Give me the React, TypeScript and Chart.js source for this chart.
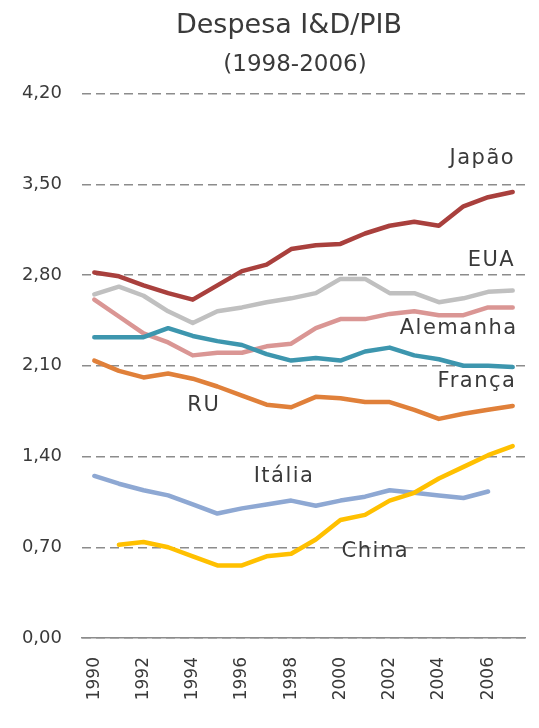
import React, { useEffect, useRef } from "react";
import { Chart, registerables } from "chart.js";

Chart.register(...registerables);

const years = ["1990","1991","1992","1993","1994","1995","1996","1997","1998","1999","2000","2001","2002","2003","2004","2005","2006","2007"];
const yTicks = [0, 0.7, 1.4, 2.1, 2.8, 3.5, 4.2];

const japao = [2.82, 2.79, 2.72, 2.66, 2.61, 2.72, 2.83, 2.88, 3.0, 3.03, 3.04, 3.12, 3.18, 3.21, 3.18, 3.33, 3.4, 3.44];
const eua = [2.65, 2.71, 2.64, 2.52, 2.43, 2.52, 2.55, 2.59, 2.62, 2.66, 2.77, 2.77, 2.66, 2.66, 2.59, 2.62, 2.67, 2.68];
const alemanha = [2.61, 2.48, 2.35, 2.28, 2.18, 2.2, 2.2, 2.25, 2.27, 2.39, 2.46, 2.46, 2.5, 2.52, 2.49, 2.49, 2.55, 2.55];
const franca = [2.32, 2.32, 2.32, 2.39, 2.33, 2.29, 2.26, 2.19, 2.14, 2.16, 2.14, 2.21, 2.24, 2.18, 2.15, 2.1, 2.1, 2.09];
const ru = [2.14, 2.06, 2.01, 2.04, 2.0, 1.94, 1.87, 1.8, 1.78, 1.86, 1.85, 1.82, 1.82, 1.76, 1.69, 1.73, 1.76, 1.79];
const italia = [1.25, 1.19, 1.14, 1.1, 1.03, 0.96, 1.0, 1.03, 1.06, 1.02, 1.06, 1.09, 1.14, 1.12, 1.1, 1.08, 1.13, null];
const china = [null, 0.72, 0.74, 0.7, 0.63, 0.56, 0.56, 0.63, 0.65, 0.76, 0.91, 0.95, 1.06, 1.12, 1.23, 1.32, 1.41, 1.48];

const seriesNames = ["Japão", "EUA", "Alemanha", "França", "RU", "Itália", "China"];

// label anchors in data units: [category index, value, align]
const labelAnchors: [number, number, CanvasTextAlign][] = [
  [17.1, 3.7, "right"],
  [17.1, 2.91, "right"],
  [17.2, 2.386, "right"],
  [17.15, 1.98, "right"],
  [4.45, 1.79, "center"],
  [7.71, 1.245, "center"],
  [11.42, 0.67, "center"],
];

const FONT = "'DejaVu Sans', sans-serif";
const TEXT = "#3a3a3a";

const textPlugin = {
  id: "texts",
  afterDatasetsDraw(chart: any) {
    const { ctx, scales } = chart;
    ctx.save();
    ctx.fillStyle = TEXT;
    ctx.textBaseline = "middle";
    ctx.textAlign = "center";
    ctx.font = `27px ${FONT}`;
    ctx.fillText("Despesa I&D/PIB", 289, 26);
    ctx.font = `23px ${FONT}`;
    ctx.fillText("(1998-2006)", 295, 65);
    ctx.font = `21px ${FONT}`;
    (ctx as any).letterSpacing = "1.5px";
    seriesNames.forEach((name, i) => {
      const [xi, v, align] = labelAnchors[i];
      const x = scales.x.getPixelForValue(0) + xi * (scales.x.getPixelForValue(1) - scales.x.getPixelForValue(0));
      const y = scales.y.getPixelForValue(v);
      ctx.textAlign = align;
      ctx.fillText(name, x, y);
    });
    ctx.restore();
  },
};

export default function App() {
  const ref = useRef<HTMLCanvasElement>(null);
  useEffect(() => {
    document.body.style.margin = "0";
    const mk = (label: string, data: (number | null)[], color: string) => ({
      label,
      data,
      borderColor: color,
      backgroundColor: color,
      borderWidth: 4.5,
      pointRadius: 0,
      tension: 0,
      borderCapStyle: "round" as const,
      borderJoinStyle: "round" as const,
      spanGaps: false,
    });
    const chart = new Chart(ref.current!, {
      type: "line",
      data: {
        labels: years,
        datasets: [
          mk(seriesNames[6], china, "#FFC000"),
          mk(seriesNames[0], japao, "#A9403D"),
          mk(seriesNames[4], ru, "#E0803A"),
          mk(seriesNames[5], italia, "#8EA8D3"),
          mk(seriesNames[3], franca, "#3D96AE"),
          mk(seriesNames[2], alemanha, "#DA9694"),
          mk(seriesNames[1], eua, "#C0C0C0"),
        ],
      },
      options: {
        animation: false,
        responsive: false,
        layout: { padding: { top: 93.5, right: 14, left: 0, bottom: 0 } },
        plugins: { legend: { display: false }, title: { display: false }, tooltip: { enabled: false } },
        scales: {
          x: {
            offset: true,
            grid: { display: false, drawTicks: false },
            border: { display: true, color: "#8c8c8c", width: 1.5 },
            ticks: {
              autoSkip: false,
              minRotation: 90,
              maxRotation: 90,
              padding: 19,
              color: TEXT,
              font: { family: FONT, size: 17 },
              callback: (_v: any, i: number) => (i % 2 === 0 ? years[i] : ""),
            },
            afterFit: (s: any) => { s.height = 90; s.paddingLeft = 0; s.paddingRight = 0; },
          },
          y: {
            min: 0,
            max: 4.2,
            afterBuildTicks: (s: any) => { s.ticks = yTicks.map((v) => ({ value: v })); },
            grid: { color: "#8c8c8c", lineWidth: 1.5, drawTicks: false },
            border: { display: false, dash: [9, 5] },
            ticks: {
              padding: 20,
              color: TEXT,
              font: { family: FONT, size: 18 },
              callback: (v: any) => Number(v).toFixed(2).replace(".", ","),
            },
            afterFit: (s: any) => { s.width = 82; s.paddingTop = 0; s.paddingBottom = 0; },
          },
        },
      },
      plugins: [textPlugin],
    });
    return () => chart.destroy();
  }, []);
  return <canvas ref={ref} width={539} height={728} style={{ display: "block" }} />;
}
